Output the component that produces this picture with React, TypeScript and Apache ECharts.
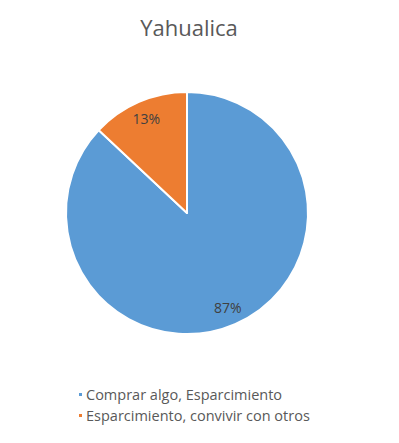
import React, { useEffect, useRef } from "react";
import * as echarts from "echarts";

const titleText = "Yahualica";
const categories = ["Comprar algo, Esparcimiento", "Esparcimiento, convivir con otros"];
const values = [87, 13];
const colors = ["#5B9BD5", "#ED7D31"];

export default function App() {
  const ref = useRef<HTMLDivElement>(null);
  useEffect(() => {
    if (!ref.current) return;
    const chart = echarts.init(ref.current, undefined, { renderer: "svg" });
    const data = categories.map((name, i) => ({ name, value: values[i] }));
    chart.setOption({
      animation: false,
      backgroundColor: "#ffffff",
      color: colors,
      title: {
        text: titleText,
        left: 184,
        top: 11,
        textAlign: "center",
        textStyle: {
          fontFamily: "Open Sans",
          fontSize: 22,
          fontWeight: "normal",
          color: "#595959",
        },
      },
      legend: {
        orient: "vertical",
        left: 72,
        top: 382,
        itemWidth: 5,
        itemHeight: 5,
        itemGap: 6,
        icon: "rect",
        data: categories,
        textStyle: {
          fontFamily: "Open Sans",
          fontSize: 14.5,
          color: "#595959",
          padding: [0, 0, 0, -2],
        },
      },
      series: [
        {
          type: "pie",
          center: [187, 213],
          radius: [0, 121],
          startAngle: 90,
          clockwise: true,
          data,
          label: { show: false },
          labelLine: { show: false },
          itemStyle: { borderColor: "#ffffff", borderWidth: 2 },
          emphasis: { disabled: true },
        },
        {
          type: "pie",
          center: [187, 213],
          radius: [78, 121],
          startAngle: 90,
          clockwise: true,
          silent: true,
          data,
          itemStyle: { color: "rgba(0,0,0,0)" },
          label: {
            show: true,
            position: "inside",
            formatter: "{d}%",
            fontFamily: "Open Sans",
            fontSize: 14,
            color: "#404040",
          },
          labelLine: { show: false },
          emphasis: { disabled: true },
        },
      ],
    });
    return () => chart.dispose();
  }, []);
  return (
    <div
      ref={ref}
      style={{ position: "fixed", left: 0, top: 0, width: 399, height: 443 }}
    />
  );
}
